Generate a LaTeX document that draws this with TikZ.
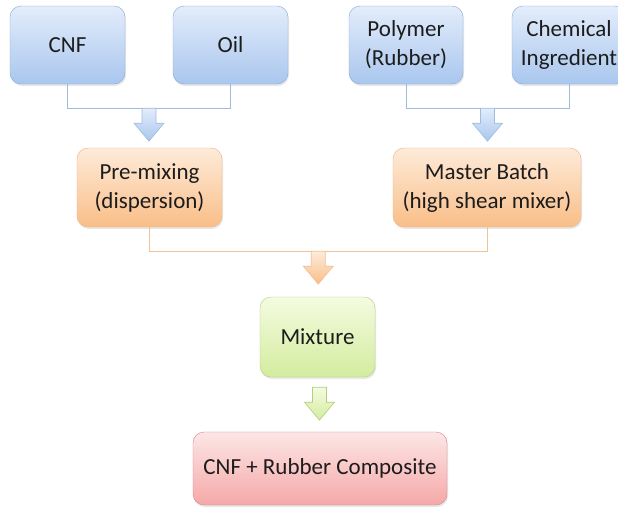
\documentclass[tikz,border=0pt]{standalone}
\usepackage{fontspec}
\setmainfont{Carlito}
\usetikzlibrary{shadows,calc}
\definecolor{bluetop}{HTML}{E3EDFB}
\definecolor{bluebot}{HTML}{A9C6EE}
\definecolor{blueline}{HTML}{8AAAD8}
\definecolor{orgtop}{HTML}{FEEBD9}
\definecolor{orgbot}{HTML}{F9BE88}
\definecolor{orgline}{HTML}{EFB27A}
\definecolor{grntop}{HTML}{F4FBE0}
\definecolor{grnbot}{HTML}{D3EC9E}
\definecolor{grnline}{HTML}{B2CF7C}
\definecolor{redtop}{HTML}{FDE6E6}
\definecolor{redbot}{HTML}{F5A8A8}
\definecolor{redline}{HTML}{D98585}
\definecolor{txt}{HTML}{1C1C1C}
\tikzset{
  box/.style={rounded corners=11pt, align=center, text=txt,
    font=\fontsize{23}{29}\selectfont, inner sep=0pt,
    drop shadow={opacity=0.18, shadow xshift=1pt, shadow yshift=-2pt}},
  bluebox/.style={box, draw=blueline, top color=bluetop, bottom color=bluebot},
  orgbox/.style={box, draw=orgline, top color=orgtop, bottom color=orgbot},
  grnbox/.style={box, draw=grnline, top color=grntop, bottom color=grnbot},
  redbox/.style={box, draw=redline, top color=redtop, bottom color=redbot},
  bluelink/.style={draw=blueline!80, line width=0.8pt},
  orglink/.style={draw=orgline!80, line width=0.8pt},
  bluearr/.style={draw=blueline!80, top color=bluetop, bottom color=bluebot, line width=0.6pt},
  orgarr/.style={draw=orgline!80, top color=orgtop, bottom color=orgbot, line width=0.6pt},
  grnarr/.style={draw=grnline, top color=grntop, bottom color=grnbot, line width=0.6pt},
  pics/barrow/.style={code={
    \path[#1] (-7,0) -- (7,0) -- (7,15) -- (15,15) -- (0,33) -- (-15,15) -- (-7,15) -- cycle;}}
}
\begin{document}
\begin{tikzpicture}[x=1pt,y=-1pt]
\useasboundingbox[fill=white] (0,0) rectangle (618,507);
% top row
\node[bluebox, minimum width=115, minimum height=78] (cnf) at (67.5,45) {CNF};
\node[bluebox, minimum width=115, minimum height=78] (oil) at (230.5,45) {Oil};
\node[bluebox, minimum width=114, minimum height=78] (poly) at (406,45) {Polymer\\(Rubber)};
\node[bluebox, minimum width=114, minimum height=78] (chem) at (569,45) {Chemical\\Ingredient};
% second row
\node[orgbox, minimum width=145, minimum height=79] (pre) at (149.5,187.5) {Pre-mixing\\(dispersion)};
\node[orgbox, minimum width=188, minimum height=79] (mb) at (487,187.5) {Master Batch\\(high shear mixer)};
% mixture
\node[grnbox, minimum width=115, minimum height=80] (mix) at (317.5,337) {Mixture};
% final
\node[redbox, minimum width=254, minimum height=73] (fin) at (320,468.5) {CNF + Rubber Composite};
% connectors
\draw[bluelink] (cnf.south) -- ++(0,24) coordinate (c1) -| (oil.south);
\draw[bluelink] (poly.south) -- ++(0,24) coordinate (c2) -| (chem.south);
\draw[orglink] (pre.south) -- ++(0,24) coordinate (c3) -| (mb.south);
\coordinate (j1) at ($(c1)!0.5!(c1-|oil.south)$);
\coordinate (j2) at ($(c2)!0.5!(c2-|chem.south)$);
\coordinate (j3) at ($(c3)!0.5!(c3-|mb.south)$);
\coordinate (j4) at ($(mix.south)+(2,10)$);
\pic at (j1) {barrow=bluearr};
\pic at (j2) {barrow=bluearr};
\pic at (j3) {barrow=orgarr};
\pic at (j4) {barrow=grnarr};
\end{tikzpicture}
\end{document}
